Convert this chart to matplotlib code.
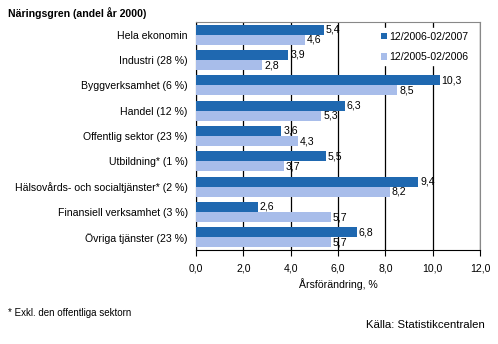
import numpy as np
import matplotlib.pyplot as plt

plt.rcParams['font.family'] = ['Liberation Sans', 'DejaVu Sans']

# branch categories, top to bottom
branches = ['Hela ekonomin', 'Industri (28 %)', 'Byggverksamhet (6 %)', 'Handel (12 %)',
            'Offentlig sektor (23 %)', 'Utbildning* (1 %)',
            'Hälsovårds- och socialtjänster* (2 %)', 'Finansiell verksamhet (3 %)',
            'Övriga tjänster (23 %)']
period_new = [5.4, 3.9, 10.3, 6.3, 3.6, 5.5, 9.4, 2.6, 6.8]
period_old = [4.6, 2.8, 8.5, 5.3, 4.3, 3.7, 8.2, 5.7, 5.7]
label_new = '12/2006-02/2007'
label_old = '12/2005-02/2006'
xticks = [0, 2, 4, 6, 8, 10, 12]

dark = '#1F68B0'
light = '#A8BDEA'

fig = plt.figure(figsize=(4.98, 3.44), dpi=100)
ax = fig.add_axes([196 / 498, 1 - 250 / 344, 284 / 498, 228 / 344])

y = np.arange(len(branches))
h = 0.395
ax.barh(y - h / 2, period_new, height=h, color=dark, label=label_new, zorder=3)
ax.barh(y + h / 2, period_old, height=h, color=light, label=label_old, zorder=3)

fs = 7.6
for yi, v in zip(y, period_new):
    ax.text(v + 0.08, yi - h / 2, f'{v:.1f}'.replace('.', ','), va='center', ha='left', fontsize=fs, zorder=4)
for yi, v in zip(y, period_old):
    ax.text(v + 0.08, yi + h / 2, f'{v:.1f}'.replace('.', ','), va='center', ha='left', fontsize=fs, zorder=4)

ax.set_xlim(0, 12)
ax.set_ylim(len(branches) - 0.5, -0.5)
ax.set_yticks(y)
ax.set_yticklabels(branches, fontsize=fs)
ax.set_xticks(xticks)
ax.set_xticklabels([f'{t:.1f}'.replace('.', ',') for t in xticks], fontsize=fs)
ax.tick_params(axis='y', length=0, pad=6)
ax.tick_params(axis='x', length=4, direction='out', width=0.8, pad=6)
ax.grid(axis='x', color='black', linewidth=0.9, zorder=1)
for s in ['top', 'right']:
    ax.spines[s].set_color('#888888')
ax.spines['left'].set_color('black')
ax.spines['bottom'].set_color('black')
ax.set_xlabel('Årsförändring, %', fontsize=fs, labelpad=3)

leg = ax.legend(loc='upper right', bbox_to_anchor=(0.99, 0.995), fontsize=fs, frameon=True,
                framealpha=1, edgecolor='white', handlelength=0.6, handleheight=0.6,
                handletextpad=0.2, labelspacing=1.0, borderpad=0.3)
leg.set_zorder(5)

fig.text(8 / 498, 1 - 13 / 344, 'Näringsgren (andel år 2000)', fontsize=fs, fontweight='bold', va='center')
fig.text(8 / 498, 1 - 313 / 344, '* Exkl. den offentliga sektorn', fontsize=fs - 0.6, va='center')
fig.text(485 / 498, 1 - 325 / 344, 'Källa: Statistikcentralen', fontsize=fs + 0.6, va='center', ha='right')

fig.savefig('out.png', dpi=100)
